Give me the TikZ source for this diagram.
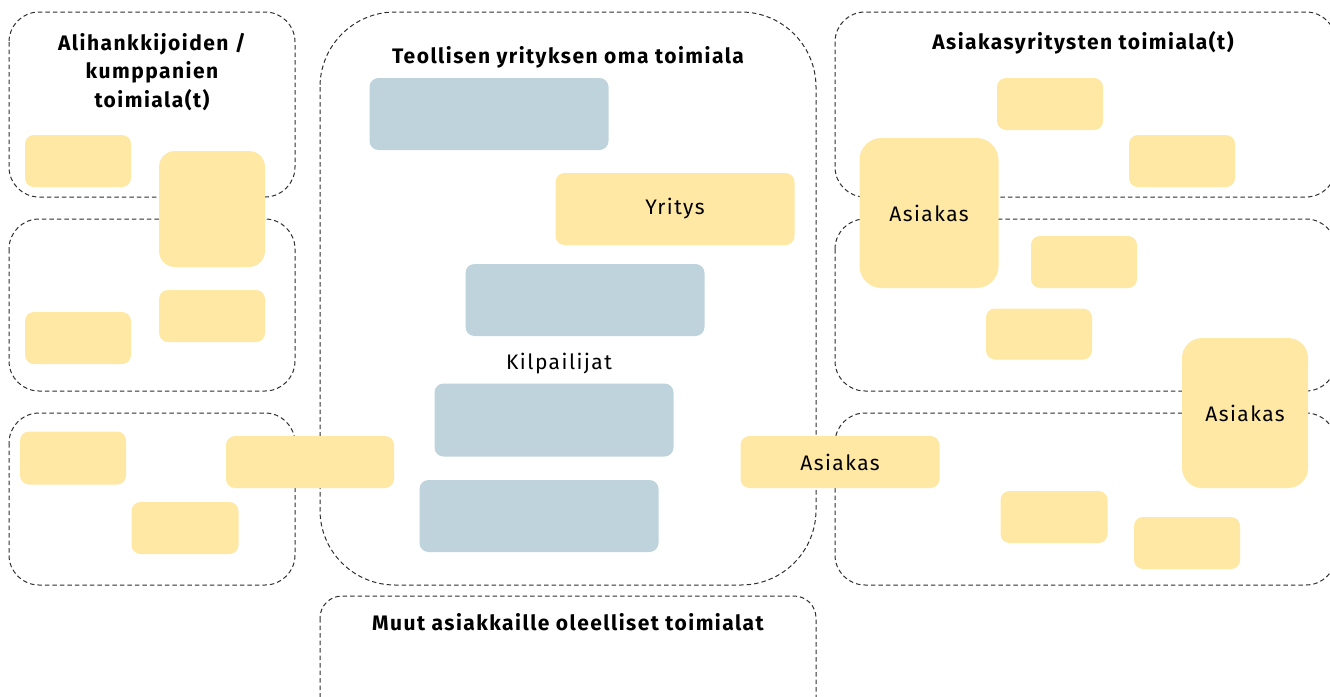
\documentclass[tikz,border=0pt]{standalone}
\usepackage{fontspec}
\setmainfont[LetterSpace=7]{Fira Sans}
\definecolor{sand}{HTML}{FEE8A4}
\definecolor{mist}{HTML}{BED3DB}
\definecolor{rim}{HTML}{2E2E2E}
\begin{document}
\begin{tikzpicture}[x=1pt,y=-1pt,
  zone/.style={draw=rim, line width=1pt, dash pattern=on 4.5pt off 3pt},
  tag/.style={fill=sand, rounded corners=9pt, inner sep=0pt},
  peer/.style={fill=mist, rounded corners=9pt, inner sep=0pt},
  head/.style={font=\fontsize{21}{28.5}\selectfont\bfseries, align=center, inner sep=0pt},
  word/.style={font=\fontsize{21}{24}\selectfont, inner sep=0pt}]
\clip (0,0) rectangle (1330,696);
% dashed industry areas
\draw[zone, rounded corners=30pt] (9,12) rectangle (295,197);
\draw[zone, rounded corners=30pt] (9,219) rectangle (295,391);
\draw[zone, rounded corners=30pt] (9,413) rectangle (295,585);
\draw[zone, rounded corners=75pt] (320,12) rectangle (816,585);
\draw[zone, rounded corners=22pt] (320,596) rectangle (816,720);
\draw[zone, rounded corners=30pt] (835,12) rectangle (1336,197);
\draw[zone, rounded corners=30pt] (835,219) rectangle (1336,391);
\draw[zone, rounded corners=30pt] (835,413) rectangle (1336,585);
% titles
\node[head] (tleft) at (152,72) {Alihankkijoiden /\\kumppanien\\toimiala(t)};
\node[head] (tmid) at (568,57) {Teollisen yrityksen oma toimiala};
\node[head] (tright) at (1083,43) {Asiakasyritysten toimiala(t)};
\node[head] (tother) at (568,622) {Muut asiakkaille oleelliset toimialat};
% partner actors
\node[tag, minimum width=106pt, minimum height=52pt] (p1) at (78,161) {};
\node[tag, minimum width=106pt, minimum height=116pt, rounded corners=16pt] (p2) at (212,209) {};
\node[tag, minimum width=106pt, minimum height=52pt] (p3) at (78,338) {};
\node[tag, minimum width=106pt, minimum height=52pt] (p4) at (212,316) {};
\node[tag, minimum width=106pt, minimum height=53pt] (p5) at (73,458) {};
\node[tag, minimum width=107pt, minimum height=52pt] (p6) at (185,528) {};
\node[tag, minimum width=168pt, minimum height=52pt] (p7) at (310,462) {};
% own industry
\node[peer, minimum width=239pt, minimum height=72pt] (c1) at (489,114) {};
\node[tag, minimum width=239pt, minimum height=72pt, word] (firm) at (675,209) {Yritys};
\node[peer, minimum width=239pt, minimum height=72pt] (c2) at (585,300) {};
\node[word] (rivals) at (559,364) {Kilpailijat};
\node[peer, minimum width=239pt, minimum height=73pt] (c3) at (554,420) {};
\node[peer, minimum width=239pt, minimum height=72pt] (c4) at (539,516) {};
\node[tag, minimum width=199pt, minimum height=52pt, word] (cust1) at (840,462) {Asiakas};
% customer industries
\node[tag, minimum width=106pt, minimum height=52pt] (r1) at (1050,104) {};
\node[tag, minimum width=106pt, minimum height=52pt] (r2) at (1182,161) {};
\node[tag, minimum width=139pt, minimum height=150pt, rounded corners=22pt, word] (cust2) at (929,213) {Asiakas};
\node[tag, minimum width=106pt, minimum height=52pt] (r3) at (1084,262) {};
\node[tag, minimum width=106pt, minimum height=51pt] (r4) at (1039,334) {};
\node[tag, minimum width=126pt, minimum height=150pt, rounded corners=20pt, word] (cust3) at (1245,413) {Asiakas};
\node[tag, minimum width=107pt, minimum height=52pt] (r5) at (1054,517) {};
\node[tag, minimum width=106pt, minimum height=52pt] (r6) at (1187,543) {};
\end{tikzpicture}
\end{document}
